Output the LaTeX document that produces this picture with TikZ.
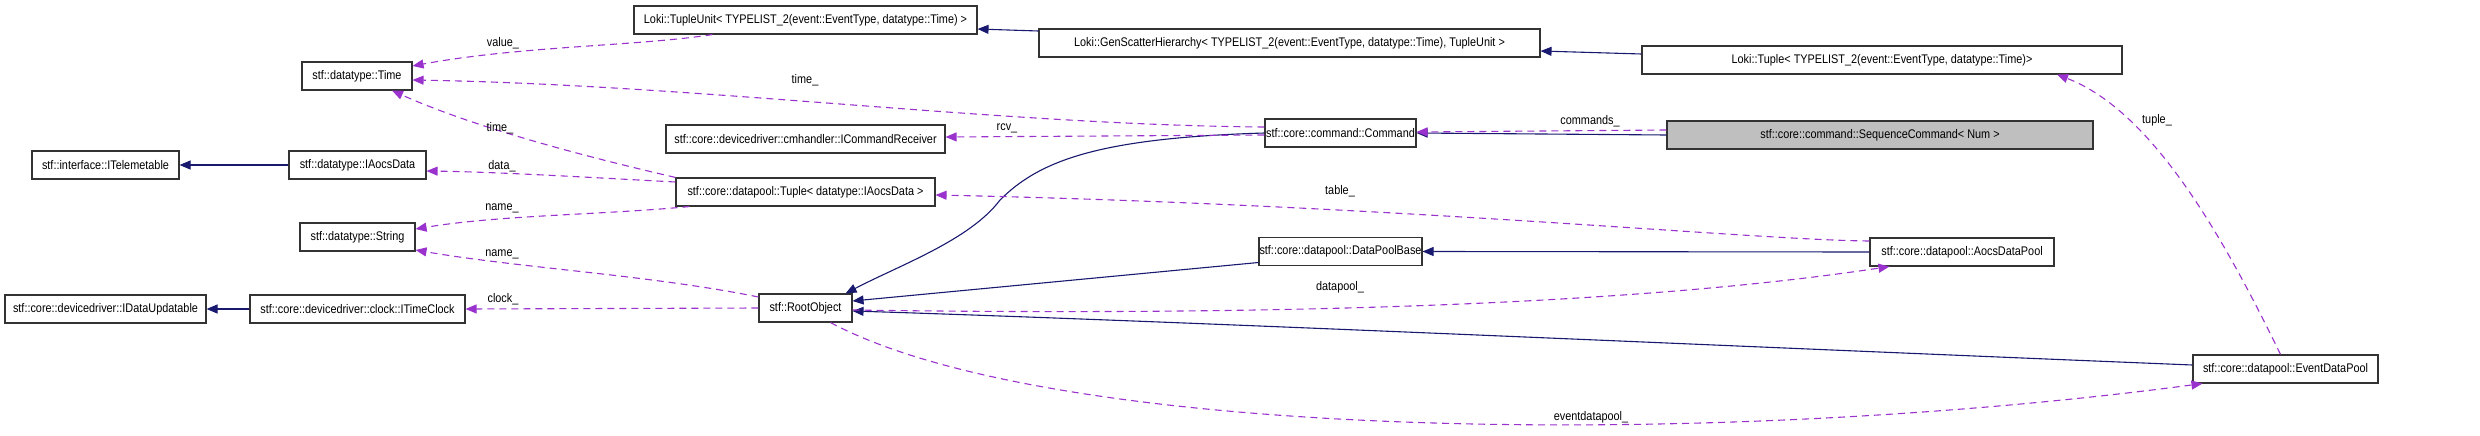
\documentclass[tikz,border=0pt]{standalone}
\usepackage{fontspec}
\setmainfont[FakeStretch=0.87]{Liberation Sans}
\usetikzlibrary{arrows.meta,calc}
\definecolor{navyc}{HTML}{191970}
\definecolor{purp}{HTML}{9A32CD}
\tikzset{
  cls/.style={draw=black!80, line width=1.1pt, fill=white, minimum height=28pt, inner sep=0pt,
    font=\fontsize{12.5}{14}\selectfont},
  inh/.style={draw=navyc, line width=1.1pt, -{Triangle[length=11pt,width=9pt]}},
  usel/.style={draw=purp, line width=1.1pt, dash pattern=on 7pt off 5pt, -{Triangle[length=11pt,width=9pt]}},
  lbl/.style={inner sep=0pt, font=\fontsize{12.5}{14}\selectfont}
}
\begin{document}
\begin{tikzpicture}[x=1pt,y=-1pt]
\useasboundingbox (0,0) rectangle (2480,436);
% nodes
\node[cls, minimum width=110pt] (time) at (357,76) {stf::datatype::Time};
\node[cls, minimum width=147pt] (itel) at (105.5,165) {stf::interface::ITelemetable};
\node[cls, minimum width=137pt] (ia) at (357.5,165) {stf::datatype::IAocsData};
\node[cls, minimum width=115pt] (str) at (357.5,237) {stf::datatype::String};
\node[cls, minimum width=201pt] (idu) at (105.5,309) {stf::core::devicedriver::IDataUpdatable};
\node[cls, minimum width=215pt] (itc) at (357.5,309) {stf::core::devicedriver::clock::ITimeClock};
\node[cls, minimum width=343pt] (tu) at (805.5,20) {Loki::TupleUnit< TYPELIST\_2(event::EventType, datatype::Time) >};
\node[cls, minimum width=501pt] (gsh) at (1289.5,43) {Loki::GenScatterHierarchy< TYPELIST\_2(event::EventType, datatype::Time), TupleUnit >};
\node[cls, minimum width=279pt] (icr) at (805.5,139) {stf::core::devicedriver::cmhandler::ICommandReceiver};
\node[cls, minimum width=259pt] (tupa) at (805.5,192) {stf::core::datapool::Tuple< datatype::IAocsData >};
\node[cls, minimum width=93pt] (root) at (805.5,308) {stf::RootObject};
\node[cls, minimum width=151pt] (cmd) at (1340.5,133) {stf::core::command::Command};
\node[cls, minimum width=426pt, fill=black!25] (seq) at (1880,135) {stf::core::command::SequenceCommand< Num >};
\node[cls, minimum width=480pt] (ltup) at (1882,60) {Loki::Tuple< TYPELIST\_2(event::EventType, datatype::Time)>};
\node[cls, minimum width=163pt] (dpb) at (1340.5,251.5) {stf::core::datapool::DataPoolBase};
\node[cls, minimum width=184pt] (aocs) at (1962,252) {stf::core::datapool::AocsDataPool};
\node[cls, minimum width=185pt] (edp) at (2285.5,369) {stf::core::datapool::EventDataPool};
% inheritance
\draw[inh] (ia.west) -- (itel.east);
\draw[inh] (itc.west) -- (idu.east);
\draw[inh] ($(gsh.west)+(0,-12)$) -- ($(tu.east)+(0,9)$);
\draw[inh] ($(ltup.west)+(0,-6)$) -- ($(gsh.east)+(0,8)$);
\draw[inh] (seq.west) -- (cmd.east);
\draw[inh] (cmd.west) .. controls (1100,138) and (1040,160) .. (1000,200) .. controls (970,240) and (900,265) .. ($(root.north east)+(-7,0)$);
\draw[inh] ($(dpb.west)+(0,11)$) -- ($(root.east)+(0,-7)$);
\draw[inh] (aocs.west) -- (dpb.east);
\draw[inh] ($(edp.west)+(0,-4)$) .. controls (1700,345) and (1200,322) .. ($(root.east)+(0,3)$);
% usage
\draw[usel] ($(tu.south)+(-93,0)$) .. controls (640,46) and (520,46) .. ($(time.east)+(0,-10)$);
\draw[usel] ($(cmd.west)+(0,-6)$) .. controls (1000,125) and (700,85) .. ($(time.east)+(0,4)$);
\draw[usel] (tupa.north west) .. controls (600,160) and (480,130) .. ($(time.south)+(35,0)$);
\draw[usel] ($(tupa.west)+(0,-10)$) .. controls (600,178) and (500,172) .. ($(ia.east)+(0,6)$);
\draw[usel] ($(tupa.south west)+(14,0)$) .. controls (600,215) and (500,215) .. ($(str.east)+(0,-8)$);
\draw[usel] ($(root.west)+(0,-11)$) .. controls (650,275) and (520,268) .. ($(str.east)+(0,13)$);
\draw[usel] (root.west) -- (itc.east);
\draw[usel] ($(cmd.west)+(0,2)$) -- ($(icr.east)+(0,-2)$);
\draw[usel] ($(seq.west)+(0,-5)$) -- ($(cmd.east)+(0,-1)$);
\draw[usel] ($(aocs.west)+(0,-11)$) .. controls (1750,240) and (1400,205) .. ($(tupa.east)+(0,3)$);
\draw[usel] ($(root.east)+(0,2)$) .. controls (1200,315) and (1600,310) .. ($(aocs.south west)+(20,0)$);
\draw[usel] ($(root.south)+(25,0)$) .. controls (1050,440) and (1700,450) .. ($(edp.south west)+(10,0)$);
\draw[usel] ($(edp.north)+(-5,0)$) .. controls (2220,230) and (2150,110) .. ($(ltup.south)+(175,0)$);
% labels
\node[lbl] (lvalue) at (503,43) {value\_};
\node[lbl] (ltime1) at (805,80) {time\_};
\node[lbl] (ltime2) at (500,128) {time\_};
\node[lbl] (ldata) at (502,166) {data\_};
\node[lbl] (lname1) at (502,208) {name\_};
\node[lbl] (lname2) at (502,254) {name\_};
\node[lbl] (lclock) at (503,299) {clock\_};
\node[lbl] (lrcv) at (1007,128) {rcv\_};
\node[lbl] (lcmds) at (1590,121) {commands\_};
\node[lbl] (ltable) at (1340,191) {table\_};
\node[lbl] (ldp) at (1340,287) {datapool\_};
\node[lbl] (ledp) at (1591,417) {eventdatapool\_};
\node[lbl] (ltuple) at (2157,120) {tuple\_};
\end{tikzpicture}
\end{document}
